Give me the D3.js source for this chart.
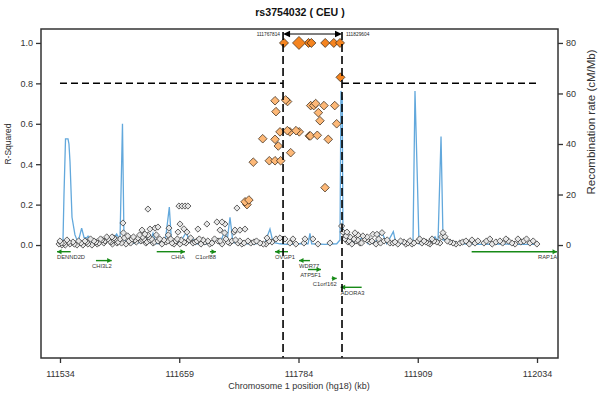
<!DOCTYPE html>
<html><head><meta charset="utf-8">
<script src="https://cdn.jsdelivr.net/npm/d3@7"></script>
<style>
body{margin:0;background:#fff}
text{font-family:"Liberation Sans",Arial,Helvetica,sans-serif}
</style>
</head><body>
<svg id="chart" width="600" height="400"></svg>
<script>
// ---------- data ----------
const chartTitle = "rs3754032 ( CEU )";
const xLabel = "Chromosome 1 position (hg18) (kb)";
const yLabel = "R-Squared";
const y2Label = "Recombination rate (cM/Mb)";
const xTicks = [111534, 111659, 111784, 111909, 112034];
const r2Ticks = [0, 0.2, 0.4, 0.6, 0.8, 1.0];
const recTicks = [0, 20, 40, 60, 80];
const regionStart = 111767.814, regionEnd = 111829.604;
const regionLabels = ["111767814", "111829604"];
const r2Threshold = 0.8;
const indexPos = 111784.5, indexR2 = 1.0;

// SNP positions (kb) and r^2 with the index SNP
const snpPos = [
 111533,111534,111536.1,111538.2,111541.3,111544.5,111547.6,111551.8,111556,111560.2,
 111563.3,111567.5,111571.7,111574.9,111578,111581.2,111584.3,111587.4,111590.6,111593.7,
 111596.9,111603.2,111606.3,111609.5,111612.6,111615.7,111618.9,111622,111625.2,111628.3,
 111631.5,111636.7,111640.9,111645.1,111651.4,111655.6,111659.8,111663.9,111669.2,111673.4,
 111677.6,111681.8,111686,111693.3,111699.6,111703.8,111710.1,111714.3,111720.5,111724.7,
 111731,111737.3,111743.6,111749.9,111756.2,111775,111781.3,111789.7,111804.4,111817,
 111832.7,111835.8,111840,111844.2,111848.4,111853.6,111858.9,111865.2,111873.6,111879.8,
 111888.2,111894.5,111898.7,111902.9,111909.2,111913.4,111917.6,111921.8,111926,111932.2,
 111942.7,111949,111953.2,111959.5,111965.8,111972.1,111978.4,111984.6,111990.9,111995.1,
 112001.4,112007.7,112014,112020.3,112026.6,112033.9,
 111535.5,111539.5,111543,111549,111553.5,111558,111562,111566,111569.5,111573,
 111576.5,111580,111583,111586,111589,111592,111595,111598.5,111601.5,111605,
 111608,111611,111614,111617.5,111620.5,111624,111627,111630,111633,111635,
 111638.5,111643,111647,111650,111653.5,111657,111661,111666,111671,111675.5,
 111680,111684,111689,111691,111696,111702,111708,111712,111718,111722.5,
 111727,111734,111740,111747,111753,111834,111837,111842,111846,111850,
 111856,111861,111868,111870,111877,111883,111891,111896.5,111905,111911,
 111915.5,111920,111924,111929,111934,111940,111946,111956,111963,111969,
 111981,111987,111998,112004,112011,112017,112023,112030,
 111626.2,111658.7,111661.9,111665,111668.1,111719.5,111648.2,111647.5,111659.8,111663.9,
 111667.1,111657.7,111678.6,111688,111698.5,111703.8,111706.9,111701.7,111706.5,111716.4,
 111600,111600.5,111620,111623,111620.5,111628.3,111633.6,111636.7,111626.2,111588.5,
 111590.6,111717.4,111722.6,111727.9,111751,111760.4,111764.6,111769.8,111778.2,111790.8,
 111799.1,111829.2,111830.6,111834.8,111838,111843.2,111846.3,111851.5,111862,111866.2,
 111871.5,111855.7,111885.1,111900.8,111935.4,111937.5,
 111768.8,111794.5,111797.5,111812,111821,111827.5,111828,
 111759.4,111770.5,111772.5,111760.4,111796.8,111800,111802,111810.7,111822,111804.8,
 111806.5,111824,111764.6,111772.3,111775,111781.4,111784.8,111795.3,111796.5,111803.7,
 111815.2,111746.5,111759.4,111762.8,111775.8,111736.6,111753.4,111759.4,111765.3,111811.8,
 111728,111732,111730
];
const snpR2 = [
 0.005,0.02,0.0,0.01,0.025,0.005,0.015,0.0,0.01,0.02,
 0.005,0.0,0.015,0.01,0.025,0.02,0.03,0.015,0.025,0.01,
 0.03,0.005,0.02,0.03,0.025,0.035,0.02,0.03,0.015,0.025,
 0.01,0.02,0.005,0.015,0.01,0.02,0.005,0.015,0.025,0.01,
 0.02,0.005,0.015,0.01,0.02,0.005,0.015,0.02,0.01,0.005,
 0.02,0.015,0.01,0.005,0.015,0.01,0.005,0.01,0.005,0.01,
 0.03,0.015,0.005,0.02,0.01,0.03,0.015,0.005,0.02,0.01,
 0.005,0.015,0.01,0.005,0.02,0.01,0.015,0.005,0.02,0.01,
 0.015,0.005,0.01,0.02,0.025,0.02,0.01,0.03,0.015,0.02,
 0.03,0.01,0.03,0.02,0.01,0.005,
 0.01,0.0,0.015,0.005,0.02,0.0,0.015,0.03,0.02,0.005,
 0.03,0.01,0.04,0.02,0.005,0.03,0.015,0.01,0.035,0.045,
 0.01,0.04,0.015,0.05,0.025,0.01,0.04,0.03,0.015,0.05,
 0.03,0.025,0.02,0.03,0.005,0.03,0.025,0.01,0.035,0.015,
 0.03,0.025,0.02,0.005,0.03,0.02,0.03,0.01,0.025,0.02,
 0.01,0.01,0.02,0.005,0.02,0.045,0.02,0.03,0.025,0.01,
 0.04,0.02,0.03,0.01,0.025,0.01,0.02,0.005,0.01,0.03,
 0.02,0.01,0.03,0.015,0.04,0.02,0.01,0.015,0.005,0.01,
 0.02,0.005,0.01,0.02,0.005,0.015,0.03,0.02,
 0.178,0.193,0.193,0.193,0.193,0.183,0.084,0.05,0.104,0.08,
 0.064,0.064,0.079,0.104,0.114,0.114,0.104,0.074,0.06,0.064,
 0.109,0.06,0.074,0.054,0.04,0.079,0.084,0.089,0.05,0.04,
 0.035,0.074,0.074,0.079,0.035,0.03,0.035,0.03,0.03,0.03,
 0.03,0.094,0.064,0.064,0.04,0.06,0.05,0.045,0.053,0.053,
 0.061,0.025,0.015,0.021,0.061,0.041,
 1.0,1.0,1.0,1.0,1.0,1.0,0.83,
 0.714,0.718,0.71,0.66,0.69,0.69,0.70,0.69,0.69,0.655,
 0.615,0.60,0.56,0.566,0.56,0.566,0.56,0.54,0.54,0.543,
 0.523,0.526,0.523,0.49,0.457,0.41,0.417,0.417,0.417,0.284,
 0.214,0.223,0.2
];

// recombination rate (cM/Mb)
const recPos = [
 111532,111537.1,111538.2,111539.8,111542.4,111543.4,111544.5,111546.6,111549.7,111552.9,
 111556.7,111559.2,111562,111563.4,111567.5,111576,111583,111586.4,111593.4,111596.9,
 111599.5,111601.1,111607.4,111617.9,111624.9,111628.3,111631.5,111634.6,111644.1,111648.6,
 111651,111659.8,111666.8,111669.2,111672.4,111675.5,111691.2,111698.3,111701.7,111707,
 111709,111712.2,111715.3,111722.7,111738.4,111748.9,111754.1,111757.3,111764.6,111771.9,
 111785.6,111794,111796,111797.8,111811.8,111824.1,111827.5,111828.5,111829.8,111830.6,
 111833.8,111838,111841.1,111846.4,111851.6,111856.9,111864.2,111871.2,111876.5,111883.4,
 111886.2,111895.6,111904,111906.1,111908.7,111910.3,111919.7,111927.1,111930.2,111933.4,
 111935.5,111940.7,111946,111955.4,111974.2,111995.2,112016.2,112034
];
const recRate = [
 0.3,1,20,42,42,40,33,11,4,1,
 6.7,3,2.8,3.5,1,0.5,2,0.8,4.4,2,
 48,2,0.5,1,3,1,4.7,0.5,0.8,15,
 0.5,1,5.3,1,3,0.5,0.5,2.5,0.5,6,
 1,11,1,0.5,0.5,1,6.3,1,0.5,0.3,
 0.5,0.5,4.6,0.5,0.3,0.5,2,61,58,4.8,
 2,4,1,1.5,3.3,0.5,1,5.3,0.5,5.3,
 0.5,0.8,0.5,61,24.4,0.5,0.8,3.3,1,43,
 2,2,1.3,0.5,0.3,0.4,0.3,0.3
];

// genes
const geneNames  = ["DENND2D","CHI3L2","CHIA","C1orf88","OVGP1","WDR77","ATP5F1","C1orf162","ADORA3","RAP1A"];
const geneStart  = [111530.9,111571.7,111635.4,111691.2,111759.4,111784.5,111794,111818.8,111828.2,111965.5];
const geneEnd    = [111545.2,111588.2,111665,111697.5,111773,111796,111807.6,111824,111850.2,112055];
const geneStrand = ["-","+","+","+","-","-","+","+","-","+"];
const geneRow    = [0,1,0,0,0,1,2,3,4,0];

// ---------- chart ----------
const svg = d3.select("#chart");
const L = 41, R = 558, T = 29, B = 358;
const x = d3.scaleLinear().domain([111514.1, 112056]).range([L, R]);
const y = d3.scaleLinear().domain([-0.559, 1.069]).range([B, T]);
const yR = d3.scaleLinear().domain([-0.559 * 80, 1.069 * 80]).range([B, T]);
const rowY = d3.scaleLinear().domain([0, 4]).range([251.7, 287.3]);

svg.append("defs").append("clipPath").attr("id", "clip")
  .append("rect").attr("x", L).attr("y", T).attr("width", R - L).attr("height", B - T);

const plot = svg.append("g").attr("clip-path", "url(#clip)");

// recombination line
const rec = recPos.map((p, i) => [p, recRate[i]]);
plot.append("path").datum(rec)
  .attr("fill", "none").attr("stroke", "#62a8dc").attr("stroke-width", 1.3)
  .attr("d", d3.line().x(d => x(d[0])).y(d => yR(d[1])));

// SNPs
const diamond = r => `M0,${-r}L${r},0L0,${r}L${-r},0Z`;
const snps = snpPos.map((p, i) => ({p, r2: snpR2[i]})).sort((a, b) => a.r2 - b.r2);
function fillFor(r2) { return r2 >= r2Threshold ? "#f5841f" : (r2 >= 0.2 ? "#fdb877" : "#e6e6e6"); }
function sizeFor(r2) { return r2 >= r2Threshold ? 4.5 : (r2 >= 0.2 ? 4.3 : 3.1); }
plot.selectAll("path.snp").data(snps).join("path").attr("class", "snp")
  .attr("transform", d => `translate(${x(d.p)},${y(d.r2)})`)
  .attr("d", d => diamond(sizeFor(d.r2)))
  .attr("fill", d => fillFor(d.r2))
  .attr("stroke", d => d.r2 >= 0.2 ? "#3a2a1a" : "#333")
  .attr("stroke-width", 0.75);
plot.append("path")
  .attr("transform", `translate(${x(indexPos)},${y(indexR2)})`)
  .attr("d", diamond(6.5)).attr("fill", "#f5841f").attr("stroke", "#3a2a1a").attr("stroke-width", 0.7);

// threshold line
[[xTicks[0], regionStart], [regionEnd, xTicks[xTicks.length - 1]]].forEach(s => {
  svg.append("line").attr("x1", x(s[0])).attr("x2", x(s[1]))
    .attr("y1", y(r2Threshold)).attr("y2", y(r2Threshold))
    .attr("stroke", "#000").attr("stroke-width", 1.5).attr("stroke-dasharray", "7,4");
});

// region lines
[regionStart, regionEnd].forEach(v => {
  svg.append("line").attr("x1", x(v)).attr("x2", x(v))
    .attr("y1", 32).attr("y2", B)
    .attr("stroke", "#000").attr("stroke-width", 1.6).attr("stroke-dasharray", "8,4");
});
const ay = 34;
svg.append("line").attr("x1", x(regionStart) + 5).attr("x2", x(regionEnd) - 5)
  .attr("y1", ay).attr("y2", ay).attr("stroke", "#000").attr("stroke-width", 1);
svg.append("path").attr("d", `M${x(regionStart)},${ay}l7,-3.2l0,6.4Z`).attr("fill", "#000");
svg.append("path").attr("d", `M${x(regionEnd)},${ay}l-7,-3.2l0,6.4Z`).attr("fill", "#000");
svg.append("text").attr("x", x(regionStart) - 3).attr("y", ay + 1.7)
  .attr("text-anchor", "end").attr("font-size", 4.8).attr("fill", "#222").text(regionLabels[0]);
svg.append("text").attr("x", x(regionEnd) + 4).attr("y", ay + 1.7)
  .attr("text-anchor", "start").attr("font-size", 4.8).attr("fill", "#222").text(regionLabels[1]);

// genes
const gcol = "#178a17";
geneNames.forEach((g, i) => {
  const x1 = x(geneStart[i]), x2 = x(Math.min(geneEnd[i], x.domain()[1]));
  const gy = rowY(geneRow[i]);
  plot.append("line").attr("x1", x1).attr("x2", x2).attr("y1", gy).attr("y2", gy)
    .attr("stroke", gcol).attr("stroke-width", 1.4);
  const tip = geneStrand[i] === "-" ? x1 : x2, dir = geneStrand[i] === "-" ? 1 : -1;
  plot.append("path").attr("d", `M${tip},${gy}L${tip + dir * 4.5},${gy - 2.5}L${tip + dir * 4.5},${gy + 2.5}Z`)
    .attr("fill", gcol);
  svg.append("text").attr("x", geneStrand[i] === "-" ? x1 : x2).attr("y", gy + 7.2)
    .attr("text-anchor", geneStrand[i] === "-" ? "start" : "end")
    .attr("font-size", 5.8).attr("fill", "#333").text(g);
});

// frame
svg.append("rect").attr("x", L).attr("y", T).attr("width", R - L).attr("height", B - T)
  .attr("fill", "none").attr("stroke", "#333").attr("stroke-width", 1.5);

// axes
const styleAxis = g => {
  g.select(".domain").remove();
  g.selectAll(".tick line").attr("stroke", "#333").attr("stroke-width", 1.3);
  g.selectAll(".tick text").attr("fill", "#333").attr("font-size", 9)
    .attr("font-family", '"Liberation Sans",Arial,sans-serif');
};
svg.append("g").attr("transform", `translate(${L},0)`)
  .call(d3.axisLeft(y).tickValues(r2Ticks).tickFormat(d3.format(".1f")).tickSize(5).tickPadding(3))
  .call(styleAxis);
svg.append("g").attr("transform", `translate(${R},0)`)
  .call(d3.axisRight(yR).tickValues(recTicks).tickFormat(d3.format("d")).tickSize(5).tickPadding(3))
  .call(styleAxis);
svg.append("g").attr("transform", `translate(0,${B})`)
  .call(d3.axisBottom(x).tickValues(xTicks).tickFormat(d3.format("d")).tickSize(5).tickPadding(8))
  .call(styleAxis);

// titles
svg.append("text").attr("x", 300).attr("y", 16).attr("text-anchor", "middle")
  .attr("font-size", 10.6).attr("font-weight", "bold").attr("fill", "#111").text(chartTitle);
svg.append("text").attr("x", 299).attr("y", 389).attr("text-anchor", "middle")
  .attr("font-size", 9).attr("fill", "#333").text(xLabel);
svg.append("text").attr("transform", `translate(11,${y(0.5)}) rotate(-90)`)
  .attr("text-anchor", "middle").attr("font-size", 8.5).attr("fill", "#333").text(yLabel);
svg.append("text").attr("transform", `translate(595,122) rotate(-90)`)
  .attr("text-anchor", "middle").attr("font-size", 11.5).attr("fill", "#333").text(y2Label);
</script>
</body></html>
